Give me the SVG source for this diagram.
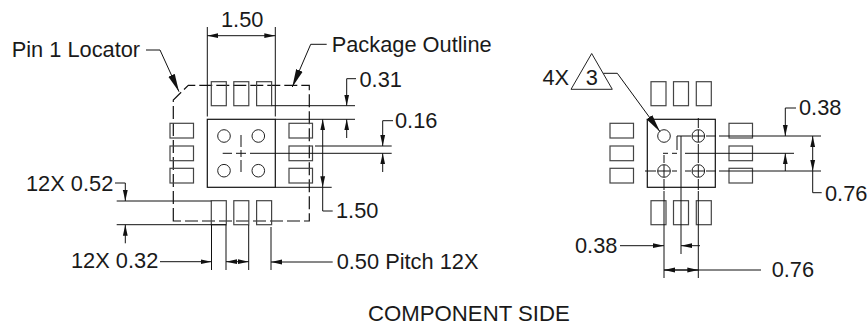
<svg xmlns="http://www.w3.org/2000/svg" width="868" height="326" viewBox="0 0 868 326">
<style>
text{font-family:"Liberation Sans",Arial,sans-serif;font-size:21.8px;fill:#1a1a1a}
.p{fill:none;stroke:#444;stroke-width:1.2}
.b{fill:none;stroke:#111;stroke-width:1.2}
.d{fill:none;stroke:#111;stroke-width:1.2;stroke-dasharray:13 4}
.c{fill:none;stroke:#222;stroke-width:1}
.l{fill:none;stroke:#111;stroke-width:1}
.a{marker-end:url(#ar)}
.s{marker-start:url(#ar)}
</style>
<defs>
<marker id="ar" markerUnits="userSpaceOnUse" markerWidth="12" markerHeight="6" refX="11" refY="3" orient="auto-start-reverse"><path d="M0 .6L11 3L0 5.4Z" fill="#111"/></marker>
<marker id="lg" markerUnits="userSpaceOnUse" markerWidth="19" markerHeight="8" refX="18" refY="4" orient="auto"><path d="M0 .5L18 4L0 7.5Z" fill="#111"/></marker>
<g id="padsV"><rect class="p" x="0" y="0" width="15" height="24"/><rect class="p" x="22.5" y="0" width="15" height="24"/><rect class="p" x="45.3" y="0" width="15" height="24"/></g>
<g id="padsH"><rect class="p" x="0" y="0" width="23.5" height="14.7"/><rect class="p" x="0" y="22.7" width="23.5" height="14.7"/><rect class="p" x="0" y="45" width="23.5" height="14.7"/></g>
</defs>
<g id="left-package">
<path class="d" d="M173.3 221V100L188.3 85.3H309.3V221Z"/>
<use href="#padsV" x="211.3" y="81.7"/><use href="#padsV" x="211.3" y="200.7"/>
<use href="#padsH" x="170" y="123.3"/><use href="#padsH" x="289" y="123.3"/>
<rect class="b" x="207.3" y="119.3" width="68" height="68"/>
<circle class="c" cx="224" cy="136" r="6.3"/><circle class="c" cx="258.3" cy="136" r="6.3"/><circle class="c" cx="224" cy="170.7" r="6.3"/><circle class="c" cx="258.3" cy="170.7" r="6.3"/>
<path class="l" d="M241 135V147M241 150V157M241 160V172"/>
</g>
<g id="right-package">
<use href="#padsV" x="651" y="81.7"/><use href="#padsV" x="651" y="200.7"/>
<use href="#padsH" x="610" y="123.3"/><use href="#padsH" x="729" y="123.3"/>
<rect class="b" x="647.3" y="119.3" width="68" height="68"/>
<circle class="c" cx="664" cy="136" r="6.3"/><circle class="c" cx="698.3" cy="136" r="6.3"/><circle class="c" cx="664" cy="171" r="6.3"/><circle class="c" cx="698.3" cy="171" r="6.3"/>
<path class="l" d="M692 136H704.6M698.3 130V142M657.7 171H670.3M664 165V177M692 171H704.6M698.3 165V177"/>
</g>
<g id="triangle"><path class="c" d="M591.7 53.5L571 89.3H612.3Z"/><text x="591.7" y="85" text-anchor="middle">3</text></g>
<g id="connectors">
<path class="l" d="M207.3 27V116.5M275.3 27V116.5"/>
<path class="l a s" d="M207.3 35.7H275.3"/>
<path class="l" d="M146 50H160L179 91.7" marker-end="url(#lg)"/>
<path class="l" d="M326.7 44.3H310.7L292.3 87" marker-end="url(#lg)"/>
<path class="l" d="M271.5 105.7H355M275.3 119.3H355"/>
<path class="l a" d="M356 78.7H346.7V105.7"/><path class="l a" d="M346.7 138V119.3"/>
<path class="l" d="M315 146H391.7M222.7 153.3H232M236 153.3H246M250 153.3H391.7"/>
<path class="l a" d="M393 120.7H382.7V146"/><path class="l a" d="M382.7 172V153.3"/>
<path class="l" d="M275.3 187.3H331.7"/>
<path class="l a s" d="M322.7 119.3V187.3"/><path class="l" d="M322.7 187.3V211H332.7"/>
<path class="l" d="M116.7 201H211.3M116.7 224.7H226"/>
<path class="l a" d="M115 183H125.3V201"/><path class="l a" d="M125.3 243.3V224.7"/>
<path class="l" d="M211.5 225V270M226 225V270M248.7 225V270M271 227V270"/>
<path class="l a" d="M160 261.7H211.5"/><path class="l a s" d="M226 261.7H248.7"/><path class="l a" d="M332.7 262H271"/>
<path class="l" d="M645 171H656M672 171H677M685 171H691M706 171H716M719 136H821M719 171H821M677 136H691M706 136H716M677 136V150M663 153.3H668M672 153.3H677M685 153.3H794"/>
<path class="l" d="M664 155V163M664 179V190M664 191V278M681 136V254M698.3 118V128M698.3 144V163M698.3 179V190M698.3 191V278"/>
<path class="l a" d="M796 108H785.3V136"/><path class="l a" d="M785.3 171V153.3"/>
<path class="l a s" d="M812.7 136V171"/><path class="l" d="M812.7 171V192.7H821.7"/>
<path class="l" d="M603.3 73.3H617.3L660 131.7" marker-end="url(#lg)"/>
<path class="l a" d="M620 245.7H664"/><path class="l a" d="M700 245.7H681"/>
<path class="l s" d="M664 270H761"/><path class="l a" d="M664 270H698.3"/>
</g>
<g id="labels">
<text x="11.7" y="57">Pin 1 Locator</text>
<text x="221" y="27">1.50</text>
<text x="331.7" y="52">Package Outline</text>
<text x="359.5" y="87">0.31</text>
<text x="395" y="128">0.16</text>
<text x="336" y="218">1.50</text>
<text x="26" y="190.7">12X 0.52</text>
<text x="71" y="268.3">12X 0.32</text>
<text x="336.7" y="269.3">0.50 Pitch 12X</text>
<text x="368" y="321" style="font-size:22.2px">COMPONENT SIDE</text>
<text x="542.5" y="84.5">4X</text>
<text x="799" y="115.3">0.38</text>
<text x="825" y="200.5">0.76</text>
<text x="575" y="253.3">0.38</text>
<text x="771.7" y="277.3">0.76</text>
</g>
</svg>
